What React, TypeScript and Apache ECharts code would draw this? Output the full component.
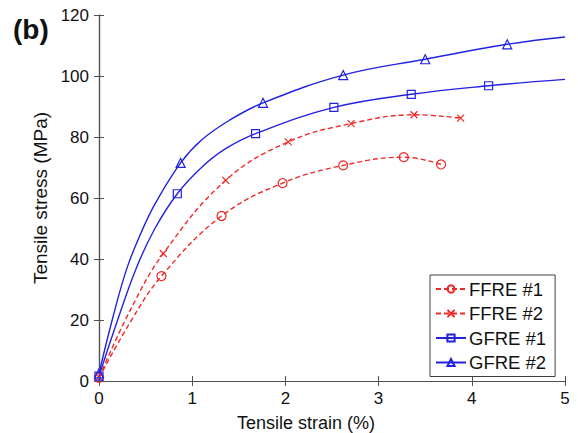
import React, { useEffect, useRef } from "react";
import * as echarts from "echarts";

// Strain (%) / stress (MPa) points carrying a marker
const ffre1Markers = [[0, 1], [0.67, 34.4], [1.315, 54.1], [1.97, 64.9], [2.62, 70.7], [3.27, 73.4], [3.67, 71.0]];
const ffre2Markers = [[0, 1.2], [0.69, 41.8], [1.36, 65.8], [2.03, 78.4], [2.705, 84.4], [3.38, 87.3], [3.88, 86.2]];
const gfre1Markers = [[0, 1.6], [0.84, 61.4], [1.68, 81.1], [2.52, 89.7], [3.35, 94.0], [4.18, 96.8]];
const gfre2Markers = [[0, 2.5], [0.876, 71.5], [1.76, 91.2], [2.62, 100.3], [3.5, 105.5], [4.38, 110.4]];
// Extra curve points (no marker)
const ffre1Curve = [[0.33, 19]];
const ffre2Curve = [[0.34, 23.5]];
const gfre1Curve = [[0.2, 20], [0.4, 37], [0.6, 50], [1.1, 70], [1.35, 76], [5, 98.9]];
const gfre2Curve = [[0.15, 21], [0.3, 37], [0.45, 48.5], [0.6, 58], [1.1, 79], [1.4, 85.5], [5, 112.8]];

const seriesNames = ["FFRE #1", "FFRE #2", "GFRE #1", "GFRE #2"];
const xTicks = [0, 1, 2, 3, 4, 5];
const yTicks = [0, 20, 40, 60, 80, 100, 120];

const RED = "#f02828";
const BLUE = "#2222e2";
const AXIS = "#505050";
const FONT = "'Liberation Sans', Arial, sans-serif";

function build(markers: number[][], curve: number[][]) {
  const pts = [
    ...markers.map((p) => ({ value: p, m: true })),
    ...curve.map((p) => ({ value: p, m: false })),
  ].sort((a, b) => a.value[0] - b.value[0]);
  return pts.map((p) => (p.m ? { value: p.value } : { value: p.value, symbol: "none" }));
}

export default function App() {
  const ref = useRef<HTMLDivElement>(null);
  useEffect(() => {
    if (!ref.current) return;
    const chart = echarts.init(ref.current, undefined, { renderer: "svg" });
    const mk = (
      name: string,
      data: any[],
      color: string,
      symbol: string,
      size: number,
      dashed: boolean
    ) => ({
      name,
      type: "line",
      data,
      xAxisIndex: 0,
      yAxisIndex: 0,
      smooth: 0.4,
      symbol,
      symbolSize: size,
      showAllSymbol: true,
      lineStyle: { color, width: 1.4, type: dashed ? [5, 3] : "solid" },
      itemStyle: { color: "rgba(255,255,255,0)", borderColor: color, borderWidth: 1.2 },
      emphasis: { disabled: true },
      z: 3,
    });
    const tickAxisLine = { show: true, lineStyle: { color: AXIS, width: 1.2 } };
    chart.setOption({
      animation: false,
      backgroundColor: "#ffffff",
      grid: { left: 99, right: 13, top: 15, bottom: 52, containLabel: false, outerBoundsMode: "none" },
      xAxis: [
        {
          type: "value",
          min: xTicks[0],
          max: xTicks[xTicks.length - 1],
          interval: 1,
          name: "Tensile strain (%)",
          nameLocation: "middle",
          nameGap: 33,
          nameTextStyle: { fontFamily: FONT, fontSize: 18, color: "#111", padding: [0, 52, 0, 0] },
          axisLine: tickAxisLine,
          axisTick: { inside: true, length: 5, lineStyle: { color: AXIS } },
          axisLabel: { fontFamily: FONT, fontSize: 17, color: "#111", margin: 9 },
          splitLine: { show: false },
        },
        {
          type: "value",
          position: "top",
          min: xTicks[0],
          max: xTicks[xTicks.length - 1],
          interval: 1,
          axisLine: tickAxisLine,
          axisTick: { inside: true, length: 5, lineStyle: { color: AXIS } },
          axisLabel: { show: false },
          splitLine: { show: false },
        },
      ],
      yAxis: [
        {
          type: "value",
          min: yTicks[0],
          max: yTicks[yTicks.length - 1],
          interval: 20,
          name: "Tensile stress (MPa)",
          nameLocation: "middle",
          nameGap: 48,
          nameTextStyle: { fontFamily: FONT, fontSize: 19, color: "#111" },
          axisLine: tickAxisLine,
          axisTick: { inside: true, length: 5, lineStyle: { color: AXIS } },
          axisLabel: { fontFamily: FONT, fontSize: 17, color: "#111", margin: 10 },
          splitLine: { show: false },
        },
        {
          type: "value",
          position: "right",
          min: yTicks[0],
          max: yTicks[yTicks.length - 1],
          interval: 20,
          axisLine: tickAxisLine,
          axisTick: { inside: true, length: 5, lineStyle: { color: AXIS } },
          axisLabel: { show: false },
          splitLine: { show: false },
        },
      ],
      legend: {
        orient: "vertical",
        left: 430,
        top: 275,
        data: seriesNames,
        itemWidth: 30,
        itemHeight: 9,
        itemGap: 4.5,
        padding: [4, 9, 4, 5],
        backgroundColor: "#ffffff",
        borderColor: "#404040",
        borderWidth: 1,
        borderRadius: 0,
        textStyle: { fontFamily: FONT, fontSize: 18.5, color: "#111", lineHeight: 20, padding: [0, 0, 0, -2] },
        selectedMode: false,
        z: 10,
      },
      graphic: [
        {
          type: "text",
          left: 13,
          top: 15,
          style: { text: "(b)", fontFamily: FONT, fontSize: 28, fontWeight: "bold", fill: "#111" },
        },
      ],
      series: [
        mk(seriesNames[0], build(ffre1Markers, ffre1Curve), RED, "circle", 9, true),
        mk(seriesNames[1], build(ffre2Markers, ffre2Curve), RED, "path://M0,0L10,10M10,0L0,10", 7, true),
        mk(seriesNames[2], build(gfre1Markers, gfre1Curve), BLUE, "rect", 8, false),
        mk(seriesNames[3], build(gfre2Markers, gfre2Curve), BLUE, "triangle", 9, false),
      ],
    });
    return () => chart.dispose();
  }, []);
  return (
    <div
      ref={ref}
      style={{ position: "fixed", left: 0, top: 0, width: 578, height: 433, background: "#fff" }}
    />
  );
}
